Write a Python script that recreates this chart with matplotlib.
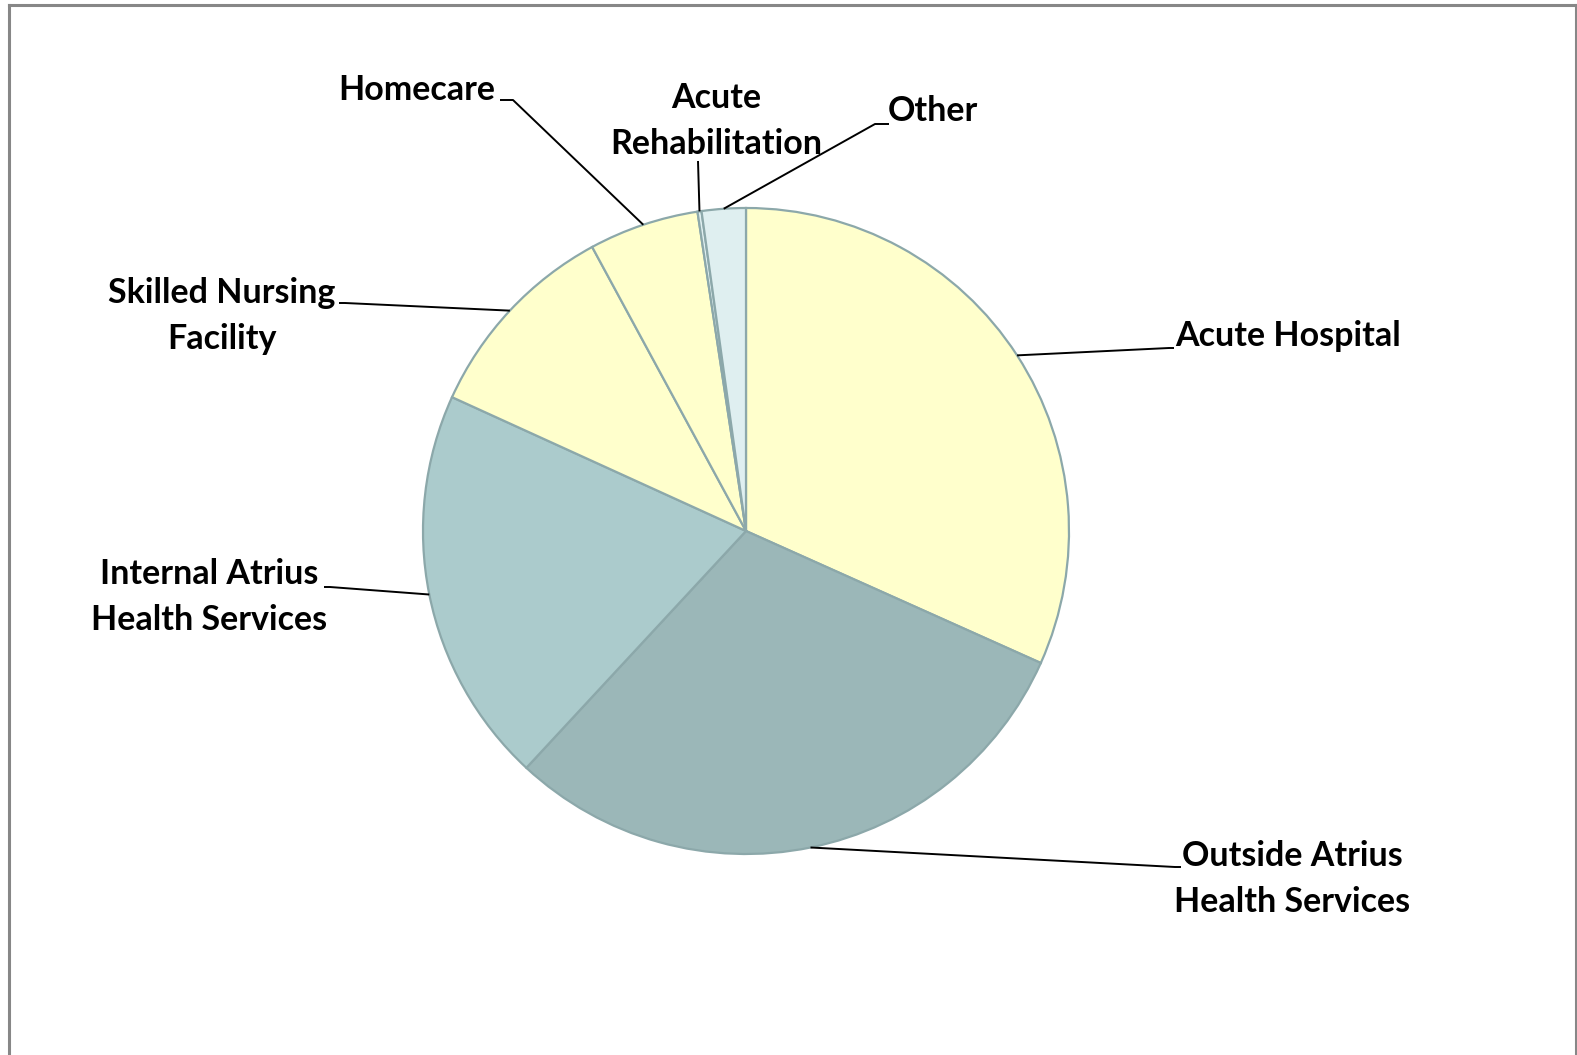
import numpy as np
import matplotlib.pyplot as plt
from matplotlib.lines import Line2D

W, H = 1577, 1055

# data
labels = ["Acute Hospital", "Outside Atrius\nHealth Services", "Internal Atrius\nHealth Services",
          "Skilled Nursing\nFacility", "Homecare", "Acute\nRehabilitation", "Other"]
shares = [31.7, 30.2, 19.9, 10.3, 5.5, 0.2, 2.2]
colors = ["#FFFFCC", "#9BB7B8", "#ABCBCC", "#FFFFCC", "#FFFFCC", "#DFEFF0", "#DFEFF0"]

# label layout in pixel coords (top-left origin): text x, text y, ha, elbow, tail end
text_xy = [(1175, 336, "left"), (1292, 879, "center"), (209, 597, "center"),
           (222, 316, "center"), (417, 90, "center"), (716, 121, "center"), (933, 111, "center")]
elbows = [(1169, 348), (1175, 867), (330, 587), (345, 303), (513, 100), (698, 161), (875, 124)]
tails = [(1174, 348), (1181, 867), (324, 587), (339, 303), (500, 100), (698, 161), (889, 124)]

cx, cy, r = 746, 531, 323

fig = plt.figure(figsize=(W / 100, H / 100), dpi=100)
ax = fig.add_axes([0, 0, 1, 1])

wedges, _ = ax.pie(shares, colors=colors, startangle=90, counterclock=False,
                   center=(cx, H - cy), radius=r,
                   wedgeprops=dict(edgecolor="#8CA8AA", linewidth=1.6))
# pie resets the limits, so set them afterwards
ax.set_xlim(0, W)
ax.set_ylim(0, H)
ax.set_aspect("equal")
ax.axis("off")

font = dict(family=["Lato", "DejaVu Sans"], fontweight="bold", fontsize=24.5, color="black")

for w, lab, (tx, ty, ha), (ex, ey), (sx, sy) in zip(wedges, labels, text_xy, elbows, tails):
    mid = np.deg2rad((w.theta1 + w.theta2) / 2)
    px = cx + r * np.cos(mid)
    py = (H - cy) + r * np.sin(mid)
    ax.plot([px, ex, sx], [py, H - ey, H - sy], color="black", lw=1.4,
            solid_capstyle="butt", zorder=5)
    ax.text(tx, H - ty, lab, ha=ha, va="center", linespacing=1.55, **font)

# outer frame (left, top, right)
fx0, fx1, fy0 = 8.5 / W, 1575.5 / W, 1 - 4.5 / H
for xs, ys in [([fx0, fx0], [0, fy0]), ([fx0, fx1], [fy0, fy0]), ([fx1, fx1], [fy0, 0])]:
    fig.add_artist(Line2D(xs, ys, color="#878787", lw=2.2, transform=fig.transFigure))

fig.savefig("out.png", dpi=100)
